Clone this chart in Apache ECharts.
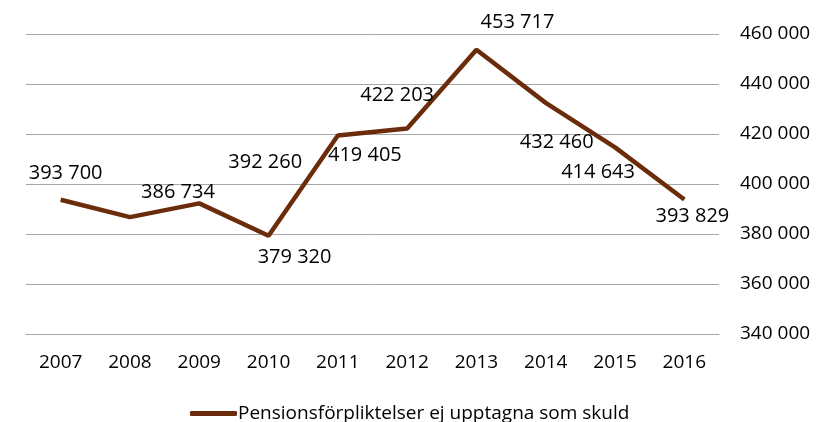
<!DOCTYPE html>
<html>
<head>
<meta charset="utf-8">
<script src="https://cdn.jsdelivr.net/npm/echarts@6/dist/echarts.min.js"></script>
<style>
  html, body { margin: 0; padding: 0; background: #fff; }
  #chart { width: 819px; height: 422px; }
</style>
</head>
<body>
<div id="chart"></div>
<script>
const years = ['2007', '2008', '2009', '2010', '2011', '2012', '2013', '2014', '2015', '2016']
const pensionValues = [393700, 386734, 392260, 379320, 419405, 422203, 453717, 432460, 414643, 393829]
const seriesName = 'Pensionsförpliktelser ej upptagna som skuld'

// label placement as in the original (offset from point, px)
const labelOffsets = [[5, -26], [48, -25], [66, -41], [26, 22], [27, 20], [-10, -33], [41, -27], [11, 39], [-17, 25], [8, 17]]

const FONT = '"Open Sans", sans-serif'
const LINE_COLOR = '#6b2c0b'

function fmt(v) {
  return String(v).replace(/\B(?=(\d{3})+(?!\d))/g, ' ')
}

const chart = echarts.init(document.getElementById('chart'))

const option = {
  animation: false,
  textStyle: { fontFamily: FONT, color: '#000' },
  grid: {
    left: 26,
    right: 100,
    top: 34,
    bottom: 88,
  },
  legend: {
    left: 185,
    top: 399,
    icon: 'roundRect',
    itemWidth: 47,
    itemHeight: 5,
    textStyle: { fontFamily: FONT, fontSize: 19, color: '#000', padding: [0, 0, 0, -4] },
    data: [seriesName],
  },
  xAxis: {
    type: 'category',
    data: years,
    boundaryGap: true,
    axisLine: { show: true, lineStyle: { color: '#a6a6a6', width: 1 } },
    axisTick: { show: false },
    axisLabel: { color: '#000', fontSize: 19, fontFamily: FONT, margin: 19 },
  },
  yAxis: {
    type: 'value',
    position: 'right',
    min: 340000,
    max: 460000,
    interval: 20000,
    axisLine: { show: false },
    axisTick: { show: false },
    splitLine: { lineStyle: { color: '#a6a6a6', width: 1 } },
    axisLabel: {
      color: '#000',
      fontSize: 19,
      fontFamily: FONT,
      margin: 21,
      formatter: fmt,
    },
  },
  series: [
    {
      name: seriesName,
      type: 'line',
      symbol: 'circle',
      symbolSize: 0,
      lineStyle: { color: LINE_COLOR, width: 4.5 },
      itemStyle: { color: LINE_COLOR },
      data: pensionValues.map((v, i) => ({
        value: v,
        label: {
          show: true,
          position: 'inside',
          offset: labelOffsets[i],
          formatter: (p) => fmt(p.value),
          color: '#000',
          fontSize: 20,
          fontFamily: FONT,
        },
      })),
    },
  ],
}

chart.setOption(option)
</script>
</body>
</html>
